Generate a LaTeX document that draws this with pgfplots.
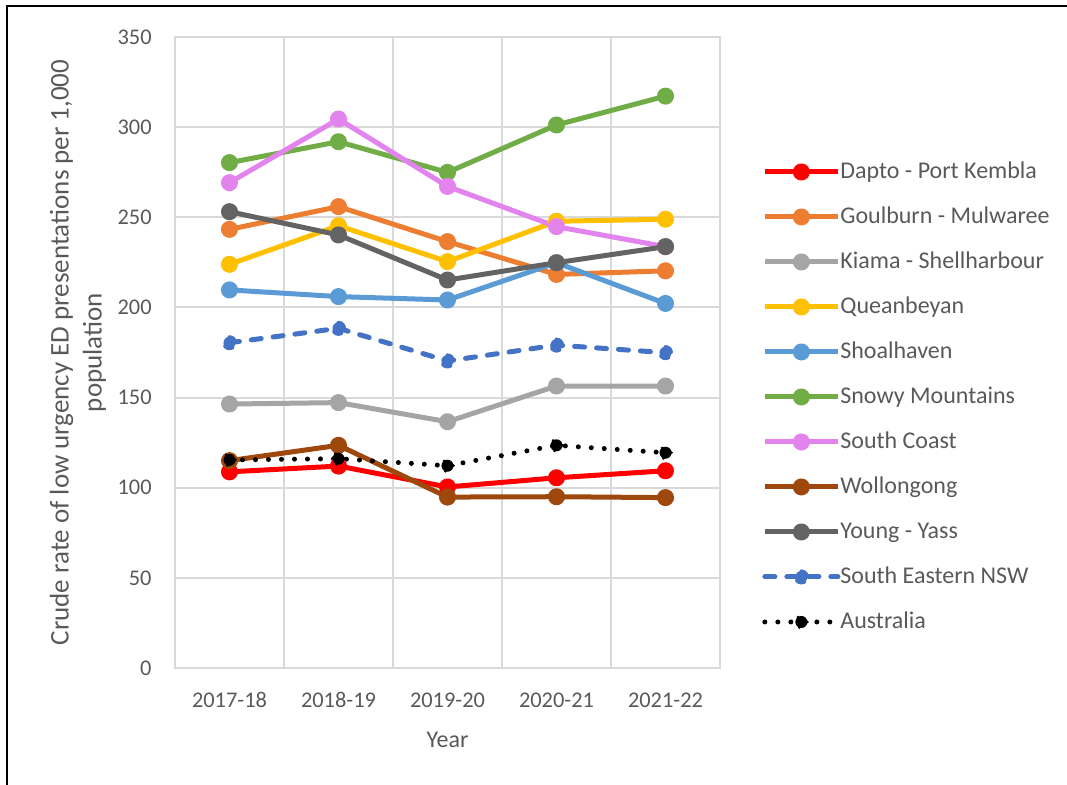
\documentclass[border=0pt]{standalone}
\usepackage{pgfplots}
\pgfplotsset{compat=1.18}
\usepackage{fontspec}
\setmainfont{Carlito}
\definecolor{txt}{HTML}{595959}
\definecolor{gridc}{HTML}{D9D9D9}
\definecolor{cDapto}{HTML}{FF0000}
\definecolor{cGoul}{HTML}{ED7D31}
\definecolor{cKiama}{HTML}{A5A5A5}
\definecolor{cQueen}{HTML}{FFC000}
\definecolor{cShoal}{HTML}{5B9BD5}
\definecolor{cSnowy}{HTML}{70AD47}
\definecolor{cSouth}{HTML}{E383EE}
\definecolor{cWoll}{HTML}{9E480E}
\definecolor{cYoung}{HTML}{636363}
\definecolor{cSE}{HTML}{4472C4}
\begin{document}
\begin{tikzpicture}
\path[use as bounding box] (0,0) rectangle (533.5pt,392.5pt);
\begin{axis}[
  at={(87.5pt,58.5pt)}, anchor=south west,
  width=272.5pt, height=315.5pt, scale only axis,
  xmin=-0.5, xmax=4.5, ymin=0, ymax=350,
  xtick={0,1,2,3,4},
  xticklabels={2017-18,2018-19,2019-20,2020-21,2021-22},
  minor xtick={0.5,1.5,2.5,3.5},
  ytick={0,50,...,350},
  ymajorgrids, xminorgrids,
  major tick length=0pt, minor tick length=0pt,
  grid style={draw=gridc, line width=1pt},
  minor grid style={draw=gridc, line width=1pt},
  axis line style={draw=gridc, line width=1pt},
  /pgf/number format/assume math mode=true,
  tick label style={font=\fontsize{11.2}{13}\selectfont, text=txt},
  xticklabel style={anchor=center, yshift=-16pt, inner sep=0pt},
  yticklabel style={anchor=east, inner sep=0pt, xshift=-11.5pt},
  xlabel={Year},
  xlabel style={font=\fontsize{12}{14}\selectfont, text=txt, at={(axis description cs:0.5,-0.114)}, anchor=center},
  ylabel={Crude rate of low urgency ED presentations per 1,000\\population},
  ylabel style={font=\fontsize{13.5}{16.5}\selectfont, text=txt, align=center, at={(axis description cs:-0.178,0.5)}, anchor=center},
  legend style={at={(axis description cs:1.077,0.4295)}, anchor=west, draw=none, fill=none,
    inner sep=0pt, font=\fontsize{12}{14}\selectfont, text=txt, row sep=13pt,
    nodes={inner sep=0pt, text height=8pt, text depth=1.5pt}},
  legend cell align=left,
  /tikz/every even column/.append style={column sep=3pt},
  legend image code/.code={\draw[mark repeat=2,mark phase=2] plot coordinates {(0pt,0pt) (18.25pt,0pt) (36.5pt,0pt)};},
  every axis plot/.append style={line width=2.5pt, mark=*, mark size=3pt, line join=round},
]
\addplot[cDapto, mark options={fill=cDapto}] coordinates {(0,108.8) (1,112) (2,100.4) (3,105.5) (4,109.4)};
\addlegendentry{Dapto - Port Kembla}
\addplot[cGoul, mark options={fill=cGoul}] coordinates {(0,243.3) (1,255.9) (2,236.5) (3,218.3) (4,220.3)};
\addlegendentry{Goulburn - Mulwaree}
\addplot[cKiama, mark options={fill=cKiama}] coordinates {(0,146.4) (1,147.2) (2,136.6) (3,156.4) (4,156.4)};
\addlegendentry{Kiama - Shellharbour}
\addplot[cQueen, mark options={fill=cQueen}] coordinates {(0,223.9) (1,245.3) (2,225.4) (3,247.8) (4,248.9)};
\addlegendentry{Queanbeyan}
\addplot[cShoal, mark options={fill=cShoal}] coordinates {(0,209.7) (1,206) (2,204.1) (3,224.8) (4,202.2)};
\addlegendentry{Shoalhaven}
\addplot[cSnowy, mark options={fill=cSnowy}] coordinates {(0,280.3) (1,291.9) (2,274.9) (3,301.2) (4,317.2)};
\addlegendentry{Snowy Mountains}
\addplot[cSouth, mark options={fill=cSouth}] coordinates {(0,269.2) (1,304.5) (2,267.1) (3,244.8) (4,233.7)};
\addlegendentry{South Coast}
\addplot[cWoll, mark options={fill=cWoll}] coordinates {(0,115) (1,123.5) (2,94.8) (3,95) (4,94.5)};
\addlegendentry{Wollongong}
\addplot[cYoung, mark options={fill=cYoung}] coordinates {(0,253.1) (1,240.2) (2,215.2) (3,224.8) (4,233.7)};
\addlegendentry{Young - Yass}
\addplot[cSE, line cap=round, dash pattern=on 5pt off 6pt, mark options={fill=cSE, line width=1.5pt}] coordinates {(0,180.4) (1,188.4) (2,170.3) (3,179.1) (4,174.9)};
\addlegendentry{South Eastern NSW}
\addplot[black, line cap=round, dash pattern=on 0pt off 6.5pt, mark options={fill=black, line width=1.5pt}] coordinates {(0,115.4) (1,116.1) (2,112.2) (3,123.5) (4,119.4)};
\addlegendentry{Australia}
\end{axis}
\draw[black, line width=1pt] (3.5pt,0pt) -- (3.5pt,389.5pt) -- (533.5pt,389.5pt);
\end{tikzpicture}
\end{document}
